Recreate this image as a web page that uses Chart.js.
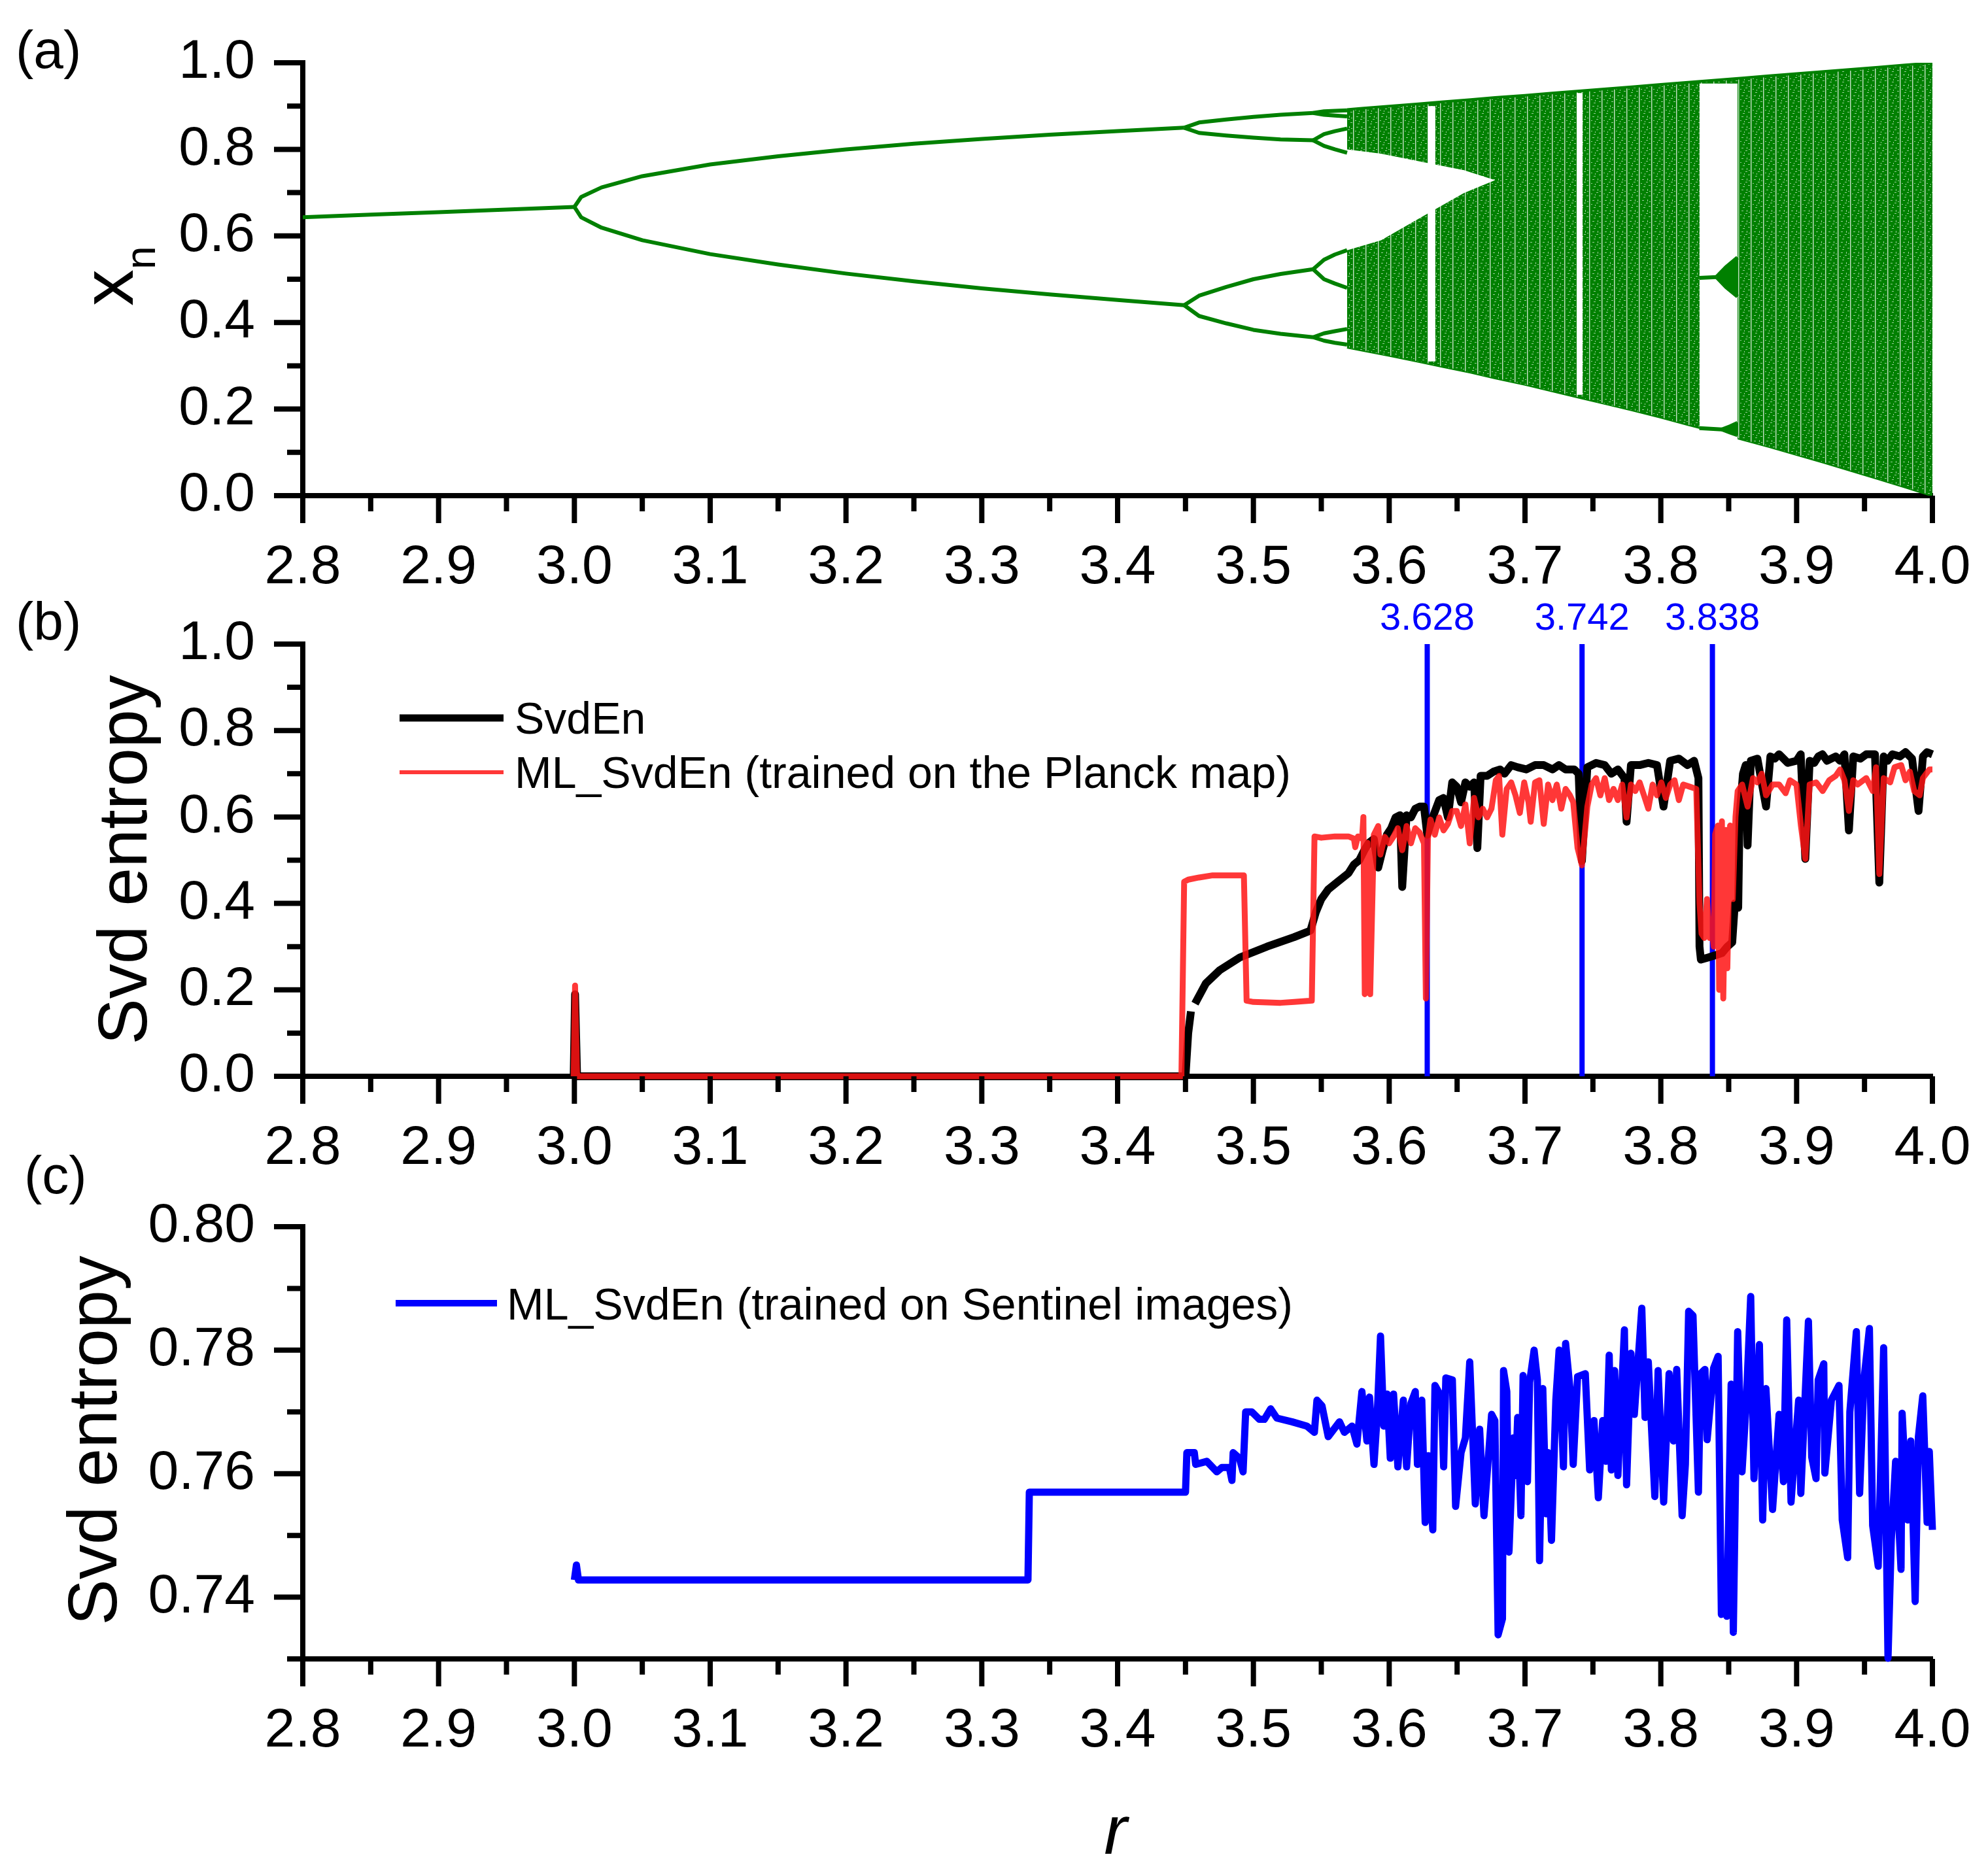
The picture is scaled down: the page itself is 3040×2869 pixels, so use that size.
<!DOCTYPE html>
<html>
<head>
<meta charset="utf-8">
<script src="https://cdn.jsdelivr.net/npm/chart.js@4.4.1/dist/chart.umd.min.js"></script>
<style>
  html, body { margin: 0; padding: 0; background: #fff; }
  body { width: 3040px; height: 2869px; position: relative; overflow: hidden; }
  canvas { position: absolute; left: 0; }
</style>
</head>
<body>
<canvas id="chartA" width="3040" height="900" style="top:0px"></canvas>
<canvas id="chartB" width="3040" height="900" style="top:900px"></canvas>
<canvas id="chartC" width="3040" height="1109" style="top:1760px"></canvas>
<script>
/*=================================
      tick labels
=================================*/
const rTickLabels = ["2.8", "2.9", "3.0", "3.1", "3.2", "3.3", "3.4", "3.5", "3.6", "3.7", "3.8", "3.9", "4.0"];
const unitTickLabels = ["0.0", "0.2", "0.4", "0.6", "0.8", "1.0"];
const sentinelTickLabels = ["0.74", "0.76", "0.78", "0.80"];

/*=================================
      (a) bifurcation diagram
=================================*/
const rStable = [2.8, 2.85, 2.9, 2.95, 3.0];
const xStable = [0.643, 0.649, 0.655, 0.661, 0.667];

const rPeriod2 = [3.0, 3.005, 3.02, 3.05, 3.1, 3.15, 3.2, 3.25, 3.3, 3.35, 3.4, 3.449];
const xPeriod2Hi = [0.667, 0.690, 0.712, 0.738, 0.765, 0.784, 0.800, 0.813, 0.824, 0.834, 0.842, 0.850];
const xPeriod2Lo = [0.667, 0.643, 0.619, 0.590, 0.558, 0.534, 0.513, 0.495, 0.479, 0.465, 0.452, 0.440];

const rPeriod4 = [3.449, 3.46, 3.48, 3.5, 3.52, 3.544];
const xPeriod4 = [
  [0.850, 0.862, 0.869, 0.875, 0.880, 0.884],
  [0.850, 0.838, 0.832, 0.827, 0.823, 0.821],
  [0.440, 0.462, 0.482, 0.500, 0.512, 0.523],
  [0.440, 0.415, 0.398, 0.383, 0.374, 0.366]
];

const rPeriod8 = [3.544, 3.552, 3.56, 3.569];
const xPeriod8 = [
  [0.884, 0.888, 0.889, 0.890], [0.884, 0.880, 0.878, 0.876],
  [0.821, 0.835, 0.842, 0.848], [0.821, 0.808, 0.800, 0.792],
  [0.523, 0.545, 0.557, 0.567], [0.523, 0.500, 0.490, 0.480],
  [0.366, 0.375, 0.380, 0.385], [0.366, 0.358, 0.353, 0.349]
];

const rChaos = [3.569, 3.58, 3.6, 3.62, 3.64, 3.66, 3.678, 3.7, 3.72, 3.74, 3.76, 3.78, 3.8, 3.82, 3.84, 3.86, 3.88, 3.9, 3.92, 3.94, 3.96, 3.98, 4.0];
const xChaosHi = [0.892, 0.895, 0.900, 0.905, 0.910, 0.915, 0.920, 0.925, 0.930, 0.935, 0.940, 0.945, 0.950, 0.955, 0.960, 0.965, 0.970, 0.975, 0.980, 0.985, 0.990, 0.995, 1.0];
const xChaosLo = [0.343, 0.336, 0.324, 0.311, 0.298, 0.285, 0.272, 0.257, 0.242, 0.227, 0.212, 0.197, 0.181, 0.164, 0.148, 0.130, 0.113, 0.095, 0.077, 0.058, 0.039, 0.020, 0.0];

// empty wedge between the two chaotic bands
const rBandGap = [3.569, 3.594, 3.624, 3.655, 3.678];
const xBandGapHi = [0.800, 0.790, 0.771, 0.752, 0.729];
const xBandGapLo = [0.567, 0.590, 0.644, 0.699, 0.729];

// periodic windows
const rWindowFrom = [3.6285, 3.738, 3.8284];
const rWindowTo = [3.634, 3.7425, 3.8565];
const xWindowHi = [0.900, 0.930, 0.952];
const xWindowLo = [0.310, 0.233, 0.120];

// period-3 window branches
const rP3 = [3.8284, 3.841];
const xP3Mid = [0.503, 0.505];
const rP3Split = [3.841, 3.848, 3.8565];
const xP3MidHi = [0.505, 0.528, 0.550];
const xP3MidLo = [0.505, 0.482, 0.460];
const rP3Bottom = [3.8284, 3.845];
const xP3Bottom = [0.156, 0.153];
const rP3BottomSplit = [3.845, 3.851, 3.8565];
const xP3BottomHi = [0.153, 0.160, 0.168];
const xP3BottomLo = [0.153, 0.146, 0.140];

/*=================================
      (b) svd entropy
=================================*/
const rSvdEn = [2.9995, 3.0005, 3.002, 3.450, 3.452, 3.454, 3.455, 3.457, 3.465, 3.475,
  3.49, 3.51, 3.53, 3.542, 3.546, 3.550, 3.555, 3.562, 3.570, 3.574,
  3.578, 3.582, 3.585, 3.5887, 3.5919, 3.5951, 3.5983, 3.6015, 3.6047, 3.6080,
  3.6096, 3.6128, 3.6160, 3.6192, 3.6224, 3.6256, 3.6280, 3.6320, 3.6368, 3.6400,
  3.6432, 3.6464, 3.6497, 3.6529, 3.6561, 3.6593, 3.6625, 3.6649, 3.6673, 3.6721,
  3.6769, 3.6817, 3.6849, 3.6898, 3.6946, 3.7010, 3.7074, 3.7138, 3.7202, 3.7250,
  3.7299, 3.7363, 3.7395, 3.7419, 3.7459, 3.7523, 3.7587, 3.7636, 3.7684, 3.7732,
  3.7748, 3.7780, 3.7844, 3.7908, 3.7972, 3.8020, 3.8069, 3.8133, 3.8197, 3.8245,
  3.8277, 3.8285, 3.8295, 3.835, 3.840, 3.845, 3.849, 3.8526, 3.8545, 3.857,
  3.858, 3.8605, 3.8625, 3.8639, 3.8663, 3.8711, 3.8775, 3.8807, 3.884, 3.8871,
  3.8935, 3.8999, 3.903, 3.9064, 3.9096, 3.913, 3.9160, 3.919, 3.9224, 3.9288,
  3.932, 3.9352, 3.9385, 3.9417, 3.947, 3.9513, 3.9577, 3.9609, 3.9641, 3.967,
  3.9705, 3.976, 3.9802, 3.985, 3.9898, 3.9930, 3.996, 4.000];
const svdEn = [0, 0.19, 0, 0, 0.10, 0.15, null, 0.168, 0.215, 0.245,
  0.275, 0.30, 0.322, 0.337, 0.38, 0.41, 0.432, 0.45, 0.47, 0.49,
  0.50, 0.525, 0.54, 0.549, 0.483, 0.523, 0.559, 0.574, 0.599, 0.604,
  0.438, 0.604, 0.599, 0.619, 0.624, 0.624, 0.559, 0.599, 0.639, 0.644,
  0.599, 0.680, 0.670, 0.634, 0.680, 0.670, 0.680, 0.528, 0.695, 0.695,
  0.705, 0.710, 0.700, 0.720, 0.715, 0.710, 0.720, 0.720, 0.710, 0.720,
  0.710, 0.710, 0.700, 0.498, 0.715, 0.725, 0.720, 0.700, 0.710, 0.690,
  0.589, 0.720, 0.720, 0.725, 0.720, 0.624, 0.730, 0.735, 0.720, 0.730,
  0.690, 0.30, 0.27, 0.275, 0.28, 0.285, 0.30, 0.31, 0.40, 0.39,
  0.60, 0.70, 0.72, 0.534, 0.730, 0.735, 0.624, 0.740, 0.735, 0.745,
  0.725, 0.730, 0.745, 0.503, 0.730, 0.725, 0.740, 0.745, 0.730, 0.740,
  0.730, 0.745, 0.569, 0.740, 0.735, 0.745, 0.745, 0.448, 0.740, 0.730,
  0.745, 0.740, 0.750, 0.735, 0.614, 0.740, 0.750, 0.745];

const rMlPlanck = [2.9995, 3.0005, 3.002, 3.447, 3.449, 3.452, 3.46, 3.47, 3.48, 3.493,
  3.495, 3.50, 3.52, 3.53, 3.543, 3.545, 3.55, 3.56, 3.57, 3.574,
  3.575, 3.577, 3.580, 3.581, 3.582, 3.584, 3.586, 3.5887, 3.5919, 3.5935,
  3.5967, 3.5999, 3.6031, 3.6063, 3.6096, 3.6128, 3.6160, 3.6192, 3.6224, 3.6256,
  3.627, 3.6285, 3.6304, 3.6336, 3.6368, 3.6400, 3.6432, 3.6464, 3.6497, 3.6529,
  3.6561, 3.6593, 3.6625, 3.6657, 3.6689, 3.6721, 3.6753, 3.6785, 3.6809, 3.6833,
  3.6865, 3.6898, 3.6930, 3.6962, 3.6994, 3.7026, 3.7042, 3.7074, 3.7106, 3.7138,
  3.7170, 3.7202, 3.7234, 3.7267, 3.7299, 3.7331, 3.7355, 3.7387, 3.7419, 3.7459,
  3.7491, 3.7523, 3.7555, 3.7587, 3.7619, 3.7652, 3.7684, 3.7716, 3.7748, 3.7780,
  3.7812, 3.7844, 3.7876, 3.7908, 3.7940, 3.7972, 3.8004, 3.8037, 3.8069, 3.8101,
  3.8133, 3.8165, 3.8213, 3.8261, 3.8285, 3.830, 3.832, 3.834, 3.836, 3.838,
  3.839, 3.840, 3.842, 3.843, 3.845, 3.846, 3.848, 3.849, 3.851, 3.853,
  3.855, 3.8566, 3.8599, 3.8639, 3.8679, 3.8711, 3.8743, 3.8775, 3.8823, 3.8871,
  3.8919, 3.8951, 3.8999, 3.9032, 3.9064, 3.9096, 3.9144, 3.9192, 3.9240, 3.9288,
  3.9320, 3.9352, 3.9385, 3.9417, 3.9449, 3.9513, 3.9561, 3.9585, 3.9609, 3.9641,
  3.9689, 3.9721, 3.9770, 3.9802, 3.9834, 3.9866, 3.9906, 3.9930, 3.9978, 4.000];
const mlPlanck = [0, 0.21, 0, 0, 0.45, 0.455, 0.46, 0.465, 0.465, 0.465,
  0.175, 0.172, 0.17, 0.172, 0.175, 0.555, 0.552, 0.555, 0.555, 0.55,
  0.53, 0.555, 0.55, 0.60, 0.19, 0.54, 0.19, 0.559, 0.579, 0.513,
  0.554, 0.539, 0.554, 0.574, 0.523, 0.579, 0.539, 0.574, 0.564, 0.539,
  0.18, 0.55, 0.594, 0.559, 0.599, 0.569, 0.584, 0.614, 0.614, 0.579,
  0.629, 0.539, 0.644, 0.599, 0.619, 0.599, 0.619, 0.685, 0.695, 0.559,
  0.665, 0.680, 0.650, 0.609, 0.680, 0.634, 0.589, 0.680, 0.685, 0.584,
  0.675, 0.639, 0.675, 0.619, 0.665, 0.650, 0.634, 0.528, 0.488, 0.624,
  0.675, 0.690, 0.650, 0.690, 0.639, 0.665, 0.639, 0.675, 0.599, 0.675,
  0.660, 0.680, 0.650, 0.619, 0.675, 0.650, 0.680, 0.644, 0.675, 0.685,
  0.639, 0.675, 0.670, 0.665, 0.40, 0.33, 0.32, 0.41, 0.32, 0.33,
  0.30, 0.56, 0.58, 0.20, 0.59, 0.18, 0.57, 0.25, 0.58, 0.41,
  0.60, 0.660, 0.675, 0.624, 0.690, 0.680, 0.700, 0.650, 0.675, 0.675,
  0.655, 0.685, 0.675, 0.579, 0.503, 0.675, 0.680, 0.660, 0.685, 0.695,
  0.710, 0.685, 0.614, 0.685, 0.675, 0.690, 0.660, 0.715, 0.468, 0.690,
  0.680, 0.715, 0.720, 0.685, 0.705, 0.660, 0.650, 0.690, 0.710, 0.710];

const rMarkers = [3.628, 3.742, 3.838];
const markerLabels = ["3.628", "3.742", "3.838"];

/*=================================
      (c) ML svd entropy, Sentinel
=================================*/
const rMlSentinel = [3.000, 3.0015, 3.003, 3.334, 3.335, 3.450,
  3.451, 3.4565, 3.4575, 3.4657, 3.4731, 3.4768, 3.4823, 3.4842, 3.4851, 3.4897,
  3.4924, 3.4943, 3.4989, 3.5044, 3.5081, 3.5127, 3.5173, 3.5284, 3.5394, 3.5449,
  3.5468, 3.5505, 3.5551, 3.5634, 3.567, 3.5726, 3.5762, 3.5799, 3.5836, 3.5855,
  3.5888,
  3.5912, 3.5936, 3.596, 3.5984, 3.6008, 3.6032, 3.6064, 3.6104, 3.6128, 3.616,
  3.6192, 3.6208, 3.624, 3.6265, 3.6289, 3.6321, 3.6337, 3.6385, 3.6401, 3.6417,
  3.6465, 3.6489, 3.6529, 3.6561, 3.6593, 3.6617, 3.6634, 3.6666, 3.6698, 3.6754,
  3.6778, 3.6802, 3.6834, 3.6842, 3.6866, 3.6882, 3.6914, 3.693, 3.6946, 3.697,
  3.6986, 3.7018, 3.7034, 3.7067, 3.7091, 3.7107, 3.7131, 3.7155, 3.7171, 3.7195,
  3.7227, 3.7251, 3.7283, 3.7299, 3.7331, 3.7355, 3.7387, 3.7444, 3.7476, 3.7508,
  3.754, 3.7572, 3.7596, 3.762, 3.7636, 3.766, 3.7684, 3.7732, 3.7748, 3.778,
  3.7805,
  3.786, 3.7884, 3.7908, 3.7956, 3.798, 3.8021, 3.8061, 3.8093, 3.8117, 3.8157,
  3.8181, 3.8205, 3.8237, 3.8277, 3.8293, 3.8325, 3.8341, 3.8389, 3.8422, 3.8446,
  3.847, 3.8486, 3.8518, 3.8534, 3.8566, 3.8598, 3.863, 3.8662, 3.8686, 3.8726,
  3.875, 3.8774, 3.8823, 3.8871, 3.8903, 3.8927, 3.8959, 3.9015, 3.9031, 3.9087,
  3.9111, 3.9143, 3.9159, 3.92, 3.9208, 3.9256, 3.9312, 3.9336, 3.9376, 3.9392,
  3.944, 3.9464, 3.9496, 3.9536, 3.956, 3.9601, 3.9641, 3.9673, 3.9697, 3.9729,
  3.9769, 3.9777, 3.9817, 3.9841, 3.9873, 3.9897, 3.9929, 3.9961, 3.9977, 4.000];
const mlSentinel = [0.7428, 0.7452, 0.7428, 0.7428, 0.7570, 0.7570,
  0.7634, 0.7634, 0.7615, 0.7620, 0.7603, 0.7610, 0.7610, 0.7589, 0.7634, 0.7625,
  0.7603, 0.7700, 0.7700, 0.7688, 0.7688, 0.7705, 0.7690, 0.7684, 0.7677, 0.7667,
  0.7719, 0.7710, 0.7660, 0.7684, 0.7667, 0.7677, 0.7648, 0.7733, 0.7653, 0.7724,
  0.7615,
  0.7696, 0.7823, 0.7677, 0.7729, 0.7625, 0.7729, 0.7611, 0.7719, 0.7611, 0.7714,
  0.7733, 0.7615, 0.7719, 0.7521, 0.7629, 0.7509, 0.7743, 0.7724, 0.7611, 0.7755,
  0.7752, 0.7547, 0.7634, 0.7658, 0.7781, 0.7648, 0.7551, 0.7672, 0.7532, 0.7696,
  0.7686, 0.7339, 0.7365, 0.7767, 0.7733, 0.7473, 0.7658, 0.7597, 0.7691, 0.7532,
  0.7759, 0.7587, 0.7748, 0.7800, 0.7752, 0.7459, 0.7738, 0.7535, 0.7634, 0.7492,
  0.7719, 0.7800, 0.7611, 0.7811, 0.7738, 0.7615, 0.7757, 0.7762, 0.7606, 0.7686,
  0.7561, 0.7686, 0.7620, 0.7792, 0.7606, 0.7767, 0.7597, 0.7833, 0.7582, 0.7795,
  0.7696,
  0.7868, 0.7691, 0.7781, 0.7563, 0.7767, 0.7554, 0.7762, 0.7653, 0.7769, 0.7532,
  0.7615, 0.7863, 0.7856, 0.7570, 0.7762, 0.7769, 0.7655, 0.7771, 0.7790, 0.7372,
  0.7445, 0.7369, 0.7745, 0.7343, 0.7830, 0.7603, 0.7719, 0.7887, 0.7592, 0.7809,
  0.7525, 0.7738, 0.7542, 0.7696, 0.7587, 0.7849, 0.7554, 0.7719, 0.7568, 0.7847,
  0.7627, 0.7592, 0.7752, 0.7778, 0.7601, 0.7719, 0.7743, 0.7525, 0.7464, 0.7700,
  0.7830, 0.7568, 0.7752, 0.7835, 0.7516, 0.7450, 0.7804, 0.7301, 0.7492, 0.7620,
  0.7445, 0.7698, 0.7525, 0.7653, 0.7393, 0.7660, 0.7726, 0.7521, 0.7636, 0.7509];

/*=================================
      styles and helpers
=================================*/
const FONT = "'Liberation Sans', Arial, Helvetica, sans-serif";
const GREEN = "#008000";
const RED = "rgba(255,20,20,0.85)";
const BLUE = "#0000ff";
const CLEAR = "rgba(0,0,0,0)";
Chart.defaults.font.family = FONT;
Chart.defaults.color = "#000";

const pts = (xs, ys) => xs.map((x, i) => ({ x: x, y: ys[i] }));

// dotted texture of the chaotic region
function chaosPattern() {
  const c = document.createElement("canvas");
  c.width = 19;
  c.height = 16;
  const g = c.getContext("2d");
  g.fillStyle = GREEN;
  g.fillRect(0, 0, 19, 16);
  g.fillStyle = "rgba(255,255,255,0.75)";
  g.fillRect(17, 0, 1, 16);
  g.fillStyle = "rgba(255,255,255,0.35)";
  g.fillRect(18, 0, 1, 16);
  g.fillStyle = "rgba(255,255,255,0.6)";
  g.fillRect(3, 2, 3, 1);
  g.fillRect(9, 6, 3, 1);
  g.fillRect(13, 11, 3, 1);
  g.fillRect(5, 13, 3, 1);
  g.fillRect(11, 1, 1, 3);
  g.fillRect(7, 9, 1, 2);
  g.fillRect(14, 4, 2, 1);
  g.fillRect(1, 8, 2, 1);
  return g.createPattern(c, "repeat");
}

function minorsOf(vals, min, max) {
  const out = [];
  const step = vals[1] - vals[0];
  for (let i = 0; i < vals.length - 1; i++) out.push((vals[i] + vals[i + 1]) / 2);
  if (vals[0] - step / 2 >= min - 1e-9) out.push(vals[0] - step / 2);
  if (vals[vals.length - 1] + step / 2 <= max + 1e-9) out.push(vals[vals.length - 1] + step / 2);
  return out;
}

// outward major and minor tick marks
const axisTicks = {
  id: "axisTicks",
  afterDraw(chart) {
    const ctx = chart.ctx;
    const a = chart.chartArea;
    const xs = chart.scales.x;
    const ys = chart.scales.y;
    const xMaj = xs.ticks.map((t) => t.value);
    const yMaj = ys.ticks.map((t) => t.value);
    ctx.save();
    ctx.strokeStyle = "#000";
    ctx.lineWidth = 8;
    ctx.beginPath();
    xMaj.forEach((v) => { const p = xs.getPixelForValue(v); ctx.moveTo(p, a.bottom); ctx.lineTo(p, a.bottom + 42); });
    minorsOf(xMaj, xs.min, xs.max).forEach((v) => { const p = xs.getPixelForValue(v); ctx.moveTo(p, a.bottom); ctx.lineTo(p, a.bottom + 24); });
    yMaj.forEach((v) => { const p = ys.getPixelForValue(v); ctx.moveTo(a.left, p); ctx.lineTo(a.left - 44, p); });
    minorsOf(yMaj, ys.min, ys.max).forEach((v) => { const p = ys.getPixelForValue(v); ctx.moveTo(a.left, p); ctx.lineTo(a.left - 24, p); });
    ctx.stroke();
    ctx.restore();
  },
};

// panel letters, axis titles, legends, marker labels
function overlay(items) {
  return {
    id: "overlay",
    afterDraw(chart) {
      const ctx = chart.ctx;
      items.forEach((it) => {
        ctx.save();
        if (it.line) {
          ctx.strokeStyle = it.color;
          ctx.lineWidth = it.width;
          ctx.beginPath();
          ctx.moveTo(it.x1, it.y);
          ctx.lineTo(it.x2, it.y);
          ctx.stroke();
        } else {
          const x = it.atR !== undefined ? chart.scales.x.getPixelForValue(it.atR) : it.x;
          ctx.font = it.font;
          ctx.fillStyle = it.color || "#000";
          ctx.textAlign = it.align || "left";
          ctx.textBaseline = "alphabetic";
          ctx.translate(x, it.y);
          if (it.rot) ctx.rotate(it.rot);
          ctx.fillText(it.text, 0, 0);
        }
        ctx.restore();
      });
    },
  };
}

function makeChart(id, cfg) {
  return new Chart(document.getElementById(id), {
    type: "line",
    data: { datasets: cfg.datasets },
    options: {
      responsive: false,
      animation: false,
      events: [],
      layout: { padding: { left: 0, right: 85, top: cfg.top, bottom: 0 } },
      elements: {
        point: { radius: 0 },
        line: { tension: 0, borderJoinStyle: "round" },
      },
      plugins: { legend: { display: false }, tooltip: { enabled: false } },
      scales: {
        x: {
          type: "linear",
          min: 2.8,
          max: 4.0,
          afterFit: (s) => { s.height = cfg.xHeight; },
          afterBuildTicks: (s) => { s.ticks = rTickLabels.map((t) => ({ value: parseFloat(t) })); },
          ticks: {
            callback: (v, i) => rTickLabels[i],
            font: { size: 84 },
            color: "#000",
            padding: 22,
            autoSkip: false,
            maxRotation: 0,
          },
          // grid hidden; tickLength only offsets the labels
          grid: { display: false, drawTicks: true, tickLength: 38 },
          border: { display: true, color: "#000", width: 8 },
        },
        y: {
          type: "linear",
          min: cfg.yMin,
          max: cfg.yMax,
          afterFit: (s) => { s.width = 463; },
          afterBuildTicks: (s) => { s.ticks = cfg.yLabels.map((t) => ({ value: parseFloat(t) })); },
          ticks: {
            callback: (v, i) => cfg.yLabels[i],
            font: { size: 84 },
            color: "#000",
            padding: 8,
          },
          grid: { display: false, drawTicks: true, tickLength: 65 },
          border: { display: true, color: "#000", width: 8 },
        },
      },
    },
    plugins: [axisTicks, overlay(cfg.items)],
  });
}

/*=================================
      panel (a)
=================================*/
const branch = (xs, ys) => ({
  data: pts(xs, ys), borderColor: GREEN, borderWidth: 6, fill: false, order: 1,
});

const dsA = [
  { data: pts(rChaos, xChaosHi), borderColor: GREEN, borderWidth: 4, fill: "+1", backgroundColor: chaosPattern(), order: 10 },
  { data: pts(rChaos, xChaosLo), borderColor: GREEN, borderWidth: 4, fill: false, order: 10 },
  { data: pts(rBandGap, xBandGapHi), borderColor: CLEAR, borderWidth: 1, fill: "+1", backgroundColor: "#fff", order: 5 },
  { data: pts(rBandGap, xBandGapLo), borderColor: CLEAR, borderWidth: 1, fill: false, order: 5 },
];
rWindowFrom.forEach((r0, i) => {
  const rr = [r0, rWindowTo[i]];
  dsA.push({ data: pts(rr, [xWindowHi[i], xWindowHi[i]]), borderColor: CLEAR, borderWidth: 1, fill: "+1", backgroundColor: "#fff", order: 5 });
  dsA.push({ data: pts(rr, [xWindowLo[i], xWindowLo[i]]), borderColor: CLEAR, borderWidth: 1, fill: false, order: 5 });
});
dsA.push(branch(rStable, xStable));
dsA.push(branch(rPeriod2, xPeriod2Hi));
dsA.push(branch(rPeriod2, xPeriod2Lo));
xPeriod4.forEach((xs) => dsA.push(branch(rPeriod4, xs)));
xPeriod8.forEach((xs) => dsA.push(branch(rPeriod8, xs)));
dsA.push(branch(rP3, xP3Mid));
dsA.push(Object.assign(branch(rP3Split, xP3MidHi), { fill: "+1", backgroundColor: GREEN }));
dsA.push(branch(rP3Split, xP3MidLo));
dsA.push(branch(rP3Bottom, xP3Bottom));
dsA.push(Object.assign(branch(rP3BottomSplit, xP3BottomHi), { fill: "+1", backgroundColor: GREEN }));
dsA.push(branch(rP3BottomSplit, xP3BottomLo));

makeChart("chartA", {
  datasets: dsA, top: 96, xHeight: 142, yMin: 0, yMax: 1, yLabels: unitTickLabels,
  items: [
    { text: "(a)", x: 24, y: 104, font: "82px " + FONT },
    { text: "x", x: 203, y: 468, rot: -Math.PI / 2, font: "112px " + FONT },
    { text: "n", x: 237, y: 412, rot: -Math.PI / 2, font: "64px " + FONT },
  ],
});

/*=================================
      panel (b)
=================================*/
const dsB = [
  { data: pts(rMlPlanck, mlPlanck), borderColor: RED, borderWidth: 9, fill: false, clip: false, order: 1 },
  { data: pts(rSvdEn, svdEn), borderColor: "#000", borderWidth: 12, fill: false, clip: false, order: 2 },
];
rMarkers.forEach((r) => {
  dsB.push({ data: pts([r, r], [0, 1]), borderColor: BLUE, borderWidth: 8, fill: false, order: 3 });
});

const itemsB = [
  { text: "(b)", x: 24, y: 78, font: "82px " + FONT },
  { text: "Svd entropy", x: 224, y: 415, rot: -Math.PI / 2, align: "center", font: "106px " + FONT },
  { line: true, x1: 611, x2: 770, y: 198, color: "#000", width: 11 },
  { text: "SvdEn", x: 787, y: 222, font: "68px " + FONT },
  { line: true, x1: 611, x2: 770, y: 281, color: RED, width: 6 },
  { text: "ML_SvdEn (trained on the Planck map)", x: 787, y: 305, font: "68px " + FONT },
];
rMarkers.forEach((r, i) => {
  itemsB.push({ text: markerLabels[i], atR: r, y: 63, align: "center", color: BLUE, font: "58px " + FONT });
});

makeChart("chartB", {
  datasets: dsB, top: 85, xHeight: 154, yMin: 0, yMax: 1, yLabels: unitTickLabels, items: itemsB,
});

/*=================================
      panel (c)
=================================*/
makeChart("chartC", {
  datasets: [
    { data: pts(rMlSentinel, mlSentinel), borderColor: BLUE, borderWidth: 11, fill: false, clip: false },
  ],
  top: 116, xHeight: 332, yMin: 0.73, yMax: 0.80, yLabels: sentinelTickLabels,
  items: [
    { text: "(c)", x: 37, y: 65, font: "82px " + FONT },
    { text: "Svd entropy", x: 178, y: 443, rot: -Math.PI / 2, align: "center", font: "106px " + FONT },
    { line: true, x1: 605, x2: 760, y: 233, color: BLUE, width: 10 },
    { text: "ML_SvdEn (trained on Sentinel images)", x: 775, y: 258, font: "68px " + FONT },
    { text: "r", x: 1706, y: 1075, align: "center", font: "italic 106px " + FONT },
  ],
});
</script>
</body>
</html>
